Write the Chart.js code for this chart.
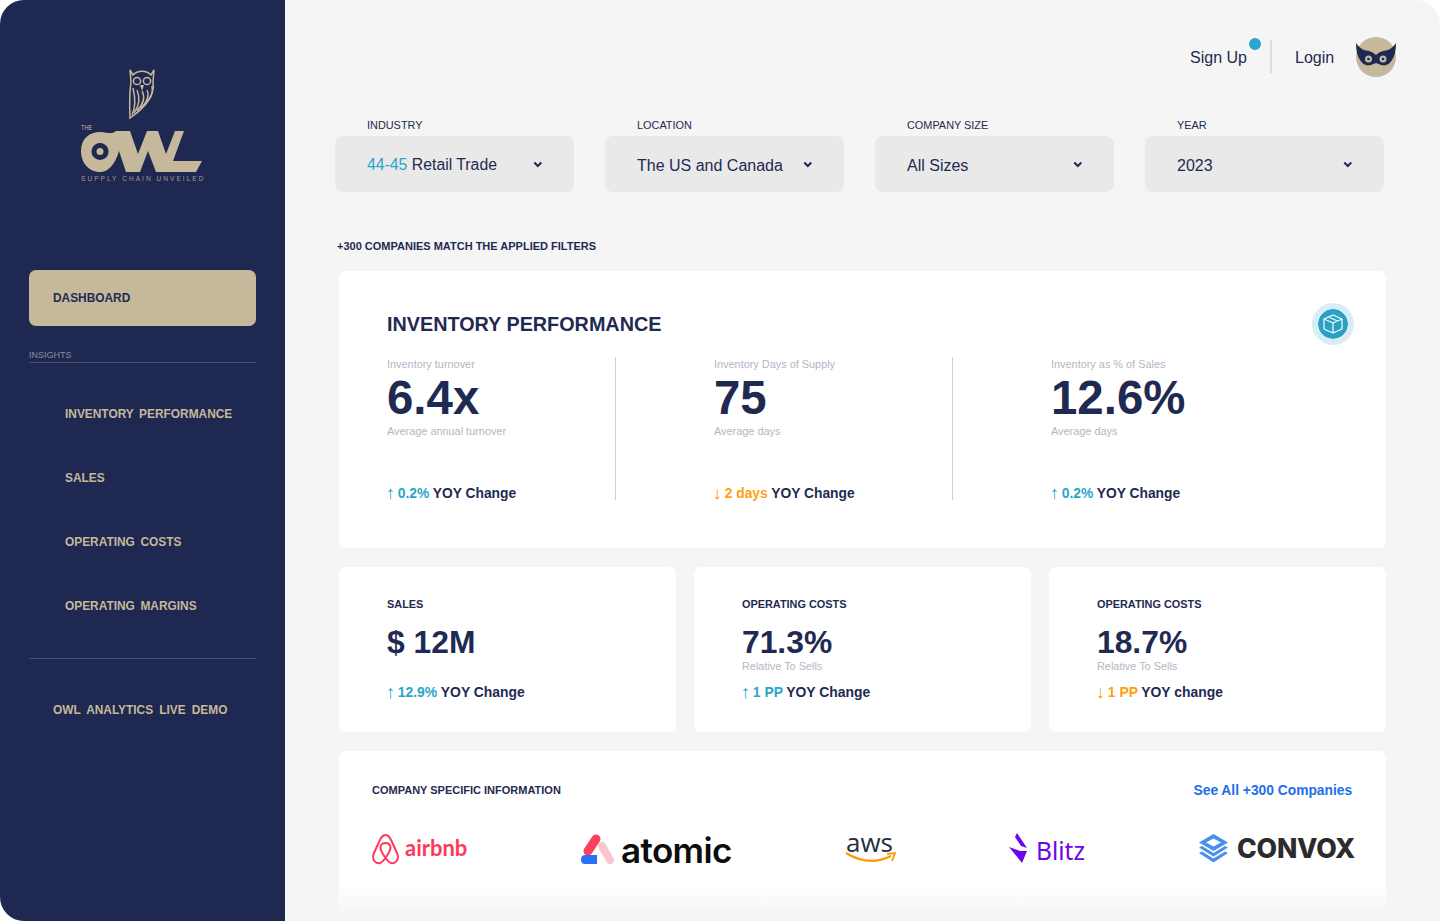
<!DOCTYPE html>
<html lang="en">
<head>
<meta charset="UTF-8">
<title>The Owl - Dashboard</title>
<script src="https://cdn.jsdelivr.net/npm/chart.js"></script>
<style>
  html, body { margin: 0; padding: 0; background: #fff; }
  body { width: 1440px; height: 921px; overflow: hidden; position: relative; font-family: "Liberation Sans", Arial, sans-serif; color: #1f2a52; }
  #main { position: absolute; left: 0; top: 0; width: 1440px; height: 921px; background: #f5f5f5; border-radius: 24px 24px 0 24px; overflow: hidden; }
  #side { position: absolute; left: 0; top: 0; width: 285px; height: 921px; background: #1e2850; border-radius: 24px 0 0 24px; }
  .box { position: absolute; box-sizing: border-box; }
  .card { background: #fff; border-radius: 7px; }
  .select { background: #e9e9e9; border-radius: 8px; }
  .t { position: absolute; white-space: nowrap; transform: translateY(-50%); line-height: 1; }
  .b { font-weight: 700; }
  .gold { color: #c6b89b; }
  .grey { color: #b3b6c3; font-size: 10.9px; }
  .up { color: #29a6c9; }
  .down { color: #ff9f12; }
  .arrow { display: inline-block; transform: scale(1.35, 1.3); }
  .nav { font-weight: 700; color: #c6b89b; word-spacing: 2.3px; }
  svg { position: absolute; overflow: visible; }
  canvas { position: absolute; }
</style>
</head>
<body>
<div id="main"></div>
<div id="side"></div>

<script>
  // sidebar
  const navItems = ['INVENTORY PERFORMANCE', 'SALES', 'OPERATING COSTS', 'OPERATING MARGINS'];
  const navRows = [414, 478, 542, 606];

  // filters
  const filterLabels = ['INDUSTRY', 'LOCATION', 'COMPANY SIZE', 'YEAR'];
  const filterValues = ['Retail Trade', 'The US and Canada', 'All Sizes', '2023'];
  const filterLeft = [335, 605, 875, 1145];

  // inventory performance
  const invLabels = ['Inventory turnover', 'Inventory Days of Supply', 'Inventory as % of Sales'];
  const invValues = ['6.4x', '75', '12.6%'];
  const invNotes = ['Average annual turnover', 'Average days', 'Average days'];
  const invArrow = ['↑', '↓', '↑'];
  const invChange = ['0.2%', '2 days', '0.2%'];
  const invDir = ['up', 'down', 'up'];
  const invLeft = [387, 714, 1051];

  // small cards
  const kpiTitles = ['SALES', 'OPERATING COSTS', 'OPERATING COSTS'];
  const kpiValues = ['$ 12M', '71.3%', '18.7%'];
  const kpiNotes = ['', 'Relative To Sells', 'Relative To Sells'];
  const kpiArrow = ['↑', '↑', '↓'];
  const kpiChange = ['12.9%', '1 PP', '1 PP'];
  const kpiSuffix = ['YOY Change', 'YOY Change', 'YOY change'];
  const kpiDir = ['up', 'up', 'down'];
  const kpiCardLeft = [339, 694, 1049];

  const body = document.body;

  function box(cls, x, y, w, h, css) {
    const d = document.createElement('div');
    d.className = 'box ' + cls;
    d.style.cssText = `left:${x}px;top:${y}px;width:${w}px;height:${h}px;` + (css || '');
    body.appendChild(d);
    return d;
  }

  // text placed by left edge and vertical middle
  function text(str, x, y, size, cls, css) {
    const s = document.createElement('div');
    s.className = 't ' + (cls || '');
    // Liberation sits a little high at the larger sizes
    const top = size >= 11.5 ? y + 1 : y;
    s.style.cssText = `left:${x}px;top:${top}px;font-size:${size}px;` + (css || '');
    s.innerHTML = str;
    body.appendChild(s);
    return s;
  }

  function svg(x, y, w, h, inner) {
    const s = document.createElementNS('http://www.w3.org/2000/svg', 'svg');
    s.setAttribute('width', w); s.setAttribute('height', h);
    s.setAttribute('viewBox', `0 0 ${w} ${h}`);
    s.style.left = x + 'px'; s.style.top = y + 'px';
    s.innerHTML = inner;
    body.appendChild(s);
  }

  function chevron(x, y) {
    svg(x, y, 10, 8, '<path d="M1.300 1.500 L4.800 5 L8.300 1.500" fill="none" stroke="#1f2a52" stroke-width="2"/>');
  }

  // ---- sidebar ----
  svg(125, 66, 36, 54, `
    <g fill="none" stroke="#c6b89b" stroke-width="1.500">
      <path d="M5 4 L8 9 A 11 9 0 0 1 26 9 L29 4 L28 16 Q31 34 5 52 Q4 30 6 16 Z"/>
      <circle cx="12" cy="15" r="3.600"/><circle cx="22" cy="15" r="3.600"/>
      <path d="M8 22 Q12 38 7 49 M12 24 Q17 36 9 47 M17 25 Q22 34 12 45 M22 24 Q26 32 16 42 M27 20 Q29 30 20 38"/>
    </g>
    <path d="M15 19 L17 25 L19 19 Z" fill="#c6b89b"/>`);
  text('THE', 81, 128, 8, 'gold', 'transform:translateY(-50%) scaleX(.7);transform-origin:left;');
  svg(80, 130, 124, 44, `
    <path fill="#c6b89b" fill-rule="evenodd" d="M1 21 C1 8 10 2 20 2 C26 2 31 5 36 1 L50 1 L58 24 L67 1 L78 1 L86 24 L95 1 L104 1 L93 31 L122 31 L116 42 L76 42 L68 21 L60 42 L46 42 L39 21 C35 35 28 42 20 42 C9 42 1 33 1 21 Z M20 13 A 8.500 8.500 0 1 0 20.100 13 Z"/>
    <circle cx="20" cy="21.500" r="3.500" fill="#c6b89b"/>`);
  text('SUPPLY CHAIN UNVEILED', 81, 179, 6.5, '', 'letter-spacing:2.05px;color:#a99d86;');

  box('', 29, 270, 227, 56, 'background:#c6b89b;border-radius:7px;');
  text('DASHBOARD', 53, 298, 11.9, 'b');
  text('INSIGHTS', 29, 355, 9, '', 'color:#8b8f9f;');
  box('', 29, 362, 227, 1, 'background:#4a5272;');
  navItems.forEach((n, i) => text(n, 65, navRows[i], 11.9, 'nav'));
  box('', 29, 658, 227, 1, 'background:#4a5272;');
  text('OWL ANALYTICS LIVE DEMO', 53, 710, 11.9, 'nav', 'word-spacing:2.8px;');

  // ---- top bar ----
  text('Sign Up', 1190, 57, 16);
  box('', 1270, 40, 2, 33, 'background:#dcdce2;');
  text('Login', 1295, 57, 16);

  // ---- filters ----
  filterLabels.forEach((l, i) => {
    box('select', filterLeft[i], 136, 239, 56);
    text(l, filterLeft[i] + 32, 125, 10.9);
    if (i === 0) text('<span class="up">44-45</span> ' + filterValues[i], filterLeft[i] + 32, 164, 15.8);
    else text(filterValues[i], filterLeft[i] + 32, 165, 16);
    chevron(filterLeft[i] + 198, 161);
  });
  text('+300 COMPANIES MATCH THE APPLIED FILTERS', 337, 246, 11, 'b');

  // ---- inventory card ----
  box('card', 339, 271, 1047, 277);
  text('INVENTORY PERFORMANCE', 387, 324, 19.8, 'b');
  box('', 615, 357, 1, 143, 'background:#cfd0d4;');
  box('', 952, 357, 1, 143, 'background:#cfd0d4;');
  invLabels.forEach((l, i) => {
    const x = invLeft[i];
    text(l, x, 364, 10.9, 'grey');
    text(invValues[i], x, 397, 47.4, 'b');
    text(invNotes[i], x, 431, 10.9, 'grey');
    text(`<span class="${invDir[i]}"><span class="arrow">${invArrow[i]}</span> ${invChange[i]}</span> YOY Change`, x, 492.5, 13.8, 'b');
  });

  // ---- small cards ----
  kpiTitles.forEach((k, i) => {
    const x = kpiCardLeft[i];
    box('card', x, 567, 337, 165);
    text(k, x + 48, 604, 10.9, 'b');
    text(kpiValues[i], x + 48, 642, 31.8, 'b');
    if (kpiNotes[i]) text(kpiNotes[i], x + 48, 666, 10.9, 'grey');
    text(`<span class="${kpiDir[i]}"><span class="arrow">${kpiArrow[i]}</span> ${kpiChange[i]}</span> ${kpiSuffix[i]}`, x + 48, 692, 13.9, 'b');
  });

  // ---- companies ----
  box('card', 339, 751, 1047, 160);
  text('COMPANY SPECIFIC INFORMATION', 372, 790, 11, 'b');
  text('See All +300 Companies', 1193.500, 790, 13.8, 'b', 'color:#1c6fe6;');

  svg(371, 833, 30, 32, `<path d="M14.500 2 C11 2 10 5 8 9 L3 20 C0 27 5 31 9 30 C11 29.500 13 27 14.500 25 C16 27 18 29.500 20 30 C24 31 29 27 26 20 L21 9 C19 5 18 2 14.500 2 Z M14.500 25 C11 20 9.500 17 9.500 14.500 C9.500 11.500 12 10 14.500 10 C17 10 19.500 11.500 19.500 14.500 C19.500 17 18 20 14.500 25 Z" fill="none" stroke="#ff385c" stroke-width="2"/>`);
  text('airbnb', 405, 847, 22, 'b', 'font-family:Lato;color:#ff385c;letter-spacing:0;');

  svg(581, 833, 34, 32, `
    <path d="M21 13 L29 27" fill="none" stroke="#fbc6cf" stroke-width="8" stroke-linecap="round"/>
    <path d="M15 6 L7 18" fill="none" stroke="#ff3f5e" stroke-width="9" stroke-linecap="round"/>
    <path d="M4 22 L16 22 L16 31 L4 31 Q0 31 0 26.500 Q0 22 4 22 Z" fill="#2872fa"/>`);
  text('atomic', 621, 849, 35, 'b', 'font-family:Inter;color:#0c0c0c;letter-spacing:-.6px;font-weight:600;');

  text('aws', 846, 841, 26, '', 'font-family:"Open Sans";color:#252f3e;font-weight:500;');
  svg(845, 852, 52, 13, `<path d="M1 1 Q24 15 46 4" fill="none" stroke="#ff9900" stroke-width="2.200"/><path d="M42 2 L50 1 L47 9" fill="none" stroke="#ff9900" stroke-width="1.800"/>`);

  svg(1008, 832, 22, 32, `<path d="M9 1 L19 16 L13 14 L7 5 Z M1 15 L12 19 L19 19 L14 31 Z" fill="#6a06ea"/>`);
  text('Blitz', 1036, 850, 24.5, '', 'font-family:"Noto Sans";color:#6a06ea;');

  svg(1198, 833, 32, 30, `<g fill="#4a8fec">
    <path d="M15.500 1 L30 9.500 L15.500 18 L1 9.500 Z M15.500 5.500 L8 9.500 L15.500 13.500 L23 9.500 Z" fill-rule="evenodd"/>
    <path d="M1 14.500 L4 13 L15.500 20 L27 13 L30 14.500 L15.500 23.500 Z"/>
    <path d="M1 20 L4 18.500 L15.500 25.500 L27 18.500 L30 20 L15.500 29.500 Z"/></g>`);
  text('CONVOX', 1237, 847, 26.6, 'b', 'color:#2c2c2c;font-family:Inter;font-weight:800;letter-spacing:-.2px;');

  box('', 285, 885, 1155, 36, 'background:linear-gradient(rgba(245,245,245,0),#f5f5f5 85%);');

  // ---- the round marks are small Chart.js doughnuts ----
  function disc(cx, cy, r, rings) {
    const c = document.createElement('canvas');
    c.width = c.height = r * 2;
    c.style.cssText = `left:${cx - r}px;top:${cy - r}px;width:${r * 2}px;height:${r * 2}px;`;
    body.appendChild(c);
    return new Chart(c.getContext('2d'), {
      type: 'doughnut',
      data: {
        labels: ['ring'],
        datasets: rings.map(g => ({ data: [1], backgroundColor: g.color, weight: g.weight, borderWidth: 0 })),
      },
      options: {
        responsive: false,
        animation: false,
        cutout: 0,
        plugins: { legend: { display: false }, tooltip: { enabled: false } },
      },
    });
  }

  disc(1255, 44, 6, [{ color: '#29a6c9', weight: 1 }]);
  disc(1376, 57, 20, [{ color: '#c6b89b', weight: 1 }]);
  disc(1333, 324, 21, [{ color: '#d9eef4', weight: 6 }, { color: '#29a0c4', weight: 15 }]);

  // drawn above the discs
  svg(1321, 312, 24, 24, `<g fill="none" stroke="#fff" stroke-width="1.200" stroke-linejoin="round">
    <path d="M12 3 L21 7 L21 17 L12 21 L3 17 L3 7 Z M3 7 L12 11 L21 7 M12 11 L12 21 M7.500 5 L16.500 9"/></g>`);
  svg(1355, 40, 42, 30, `
    <path d="M1 3 Q5 10 14 11 Q18 12 21 15 Q24 12 28 11 Q37 10 41 3 Q41 14 37 20 Q33 27 26 25 L21 23 L16 25 Q9 27 5 20 Q1 14 1 3 Z" fill="#1e2850"/>
    <circle cx="13.500" cy="19" r="3.500" fill="#c6b89b"/><circle cx="28" cy="19" r="3.500" fill="#c6b89b"/>
    <circle cx="13.500" cy="19" r="1.300" fill="#1e2850"/><circle cx="28" cy="19" r="1.300" fill="#1e2850"/>`);
</script>
</body>
</html>
